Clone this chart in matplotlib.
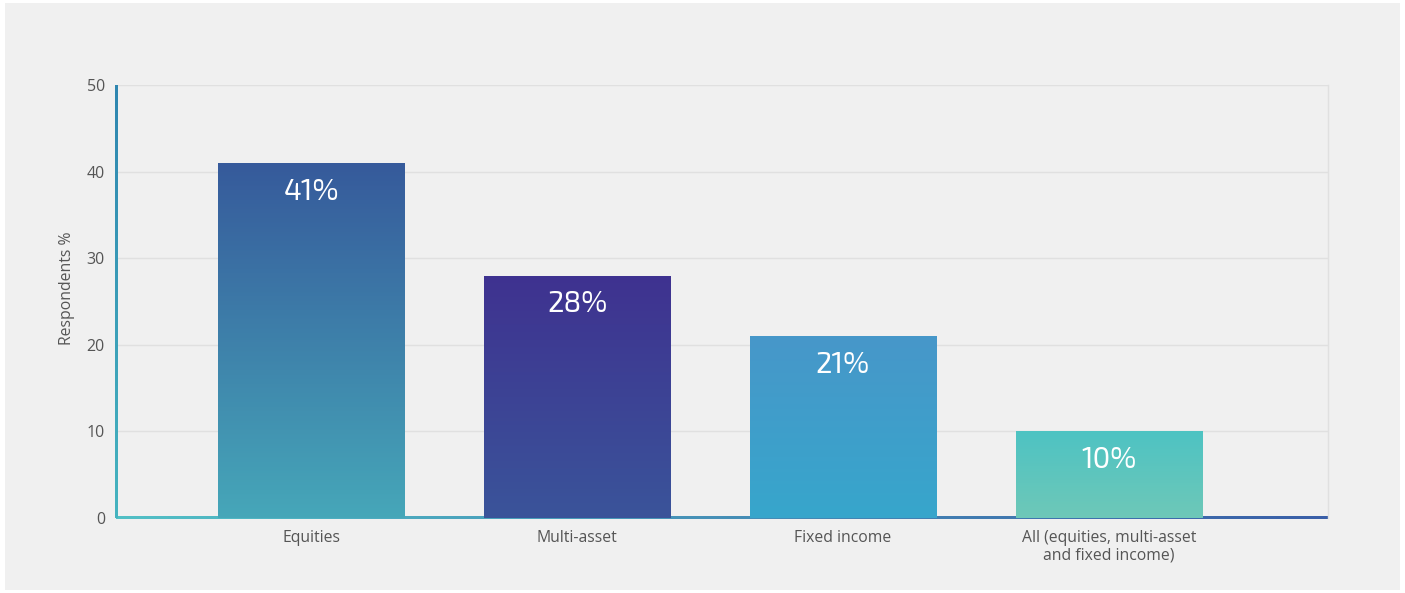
import numpy as np
import matplotlib
matplotlib.use("Agg")
import matplotlib.pyplot as plt
from matplotlib.colors import LinearSegmentedColormap
from matplotlib.patches import Rectangle

categories = ["Equities", "Multi-asset", "Fixed income",
              "All (equities, multi-asset\nand fixed income)"]
values = [41, 28, 21, 10]
value_labels = ["41%", "28%", "21%", "10%"]
y_ticks = [0, 10, 20, 30, 40, 50]

# (top colour, bottom colour) for each bar's vertical gradient
bar_gradients = [("#365a9b", "#46a7b9"),
                 ("#3f3290", "#3a549a"),
                 ("#4797c9", "#37a6cc"),
                 ("#4ec3c3", "#6ec8b8")]

plt.rcParams["font.family"] = ["Open Sans", "DejaVu Sans"]

fig = plt.figure(figsize=(14.05, 5.93), dpi=100)
fig.patch.set_facecolor("white")
fig.add_artist(Rectangle((5 / 1405, 1 - 590 / 593), 1395 / 1405, 587 / 593,
                         transform=fig.transFigure, facecolor="#f0f0f0",
                         edgecolor="none", zorder=-10))

ax = fig.add_axes([116 / 1405, 1 - 518 / 593, 1212 / 1405, 433 / 593])
ax.set_facecolor("none")

x = np.arange(len(categories))
width = 0.7
bars = ax.bar(x, values, width=width, color="none", edgecolor="none", zorder=3)

grad = np.linspace(0, 1, 256).reshape(-1, 1)
for rect, (top, bottom) in zip(bars, bar_gradients):
    cmap = LinearSegmentedColormap.from_list("g", [bottom, top])
    x0, w, h = rect.get_x(), rect.get_width(), rect.get_height()
    im = ax.imshow(grad, cmap=cmap, origin="lower", aspect="auto",
                   extent=(x0, x0 + w, 0, h), zorder=3)
    im.set_clip_path(rect)

for xi, v, lab in zip(x, values, value_labels):
    ax.annotate(lab, (xi, v), xytext=(0, -21), textcoords="offset points",
                ha="center", va="center", color="white", fontsize=21,
                family=["Exo 2", "Open Sans", "DejaVu Sans"], zorder=5)

ax.set_xlim(-0.735, 3.825)
ax.set_ylim(0, 50)
ax.set_yticks(y_ticks)
ax.set_xticks(x)
ax.set_xticklabels(categories, fontsize=11.3, color="#555555", linespacing=1.05)
ax.tick_params(axis="y", labelsize=11.5, colors="#555555", length=0, pad=8)
ax.tick_params(axis="x", length=0, pad=9)
ax.set_ylabel("Respondents %", fontsize=11.3, color="#555555")
ax.yaxis.set_label_coords(-0.034, 0.531)

ax.yaxis.grid(True, color="#e0e0e0", linewidth=1, zorder=0)
ax.set_axisbelow(True)

for side in ["top", "bottom", "left"]:
    ax.spines[side].set_visible(False)
ax.spines["right"].set_color("#e0e0e0")
ax.spines["right"].set_linewidth(1)

# gradient baseline (teal to blue) and left axis line, drawn as thin strips
hgrad = np.linspace(0, 1, 512).reshape(1, -1)
base_cmap = LinearSegmentedColormap.from_list("b", ["#52c0c6", "#3a5fa8"])
ax.imshow(hgrad, cmap=base_cmap, aspect="auto", transform=ax.transAxes,
          extent=(0, 1, -0.0025, 0.0022), zorder=2, clip_on=False)
vgrad = np.linspace(0, 1, 512).reshape(-1, 1)
left_cmap = LinearSegmentedColormap.from_list("l", ["#46b4c0", "#2f86b0"])
ax.imshow(vgrad, cmap=left_cmap, origin="lower", aspect="auto",
          transform=ax.transAxes, extent=(-0.001, 0.0008, 0, 1),
          zorder=4, clip_on=False)
ax.set_xlim(-0.735, 3.825)
ax.set_ylim(0, 50)

fig.savefig("out.png", dpi=100, facecolor=fig.get_facecolor())
